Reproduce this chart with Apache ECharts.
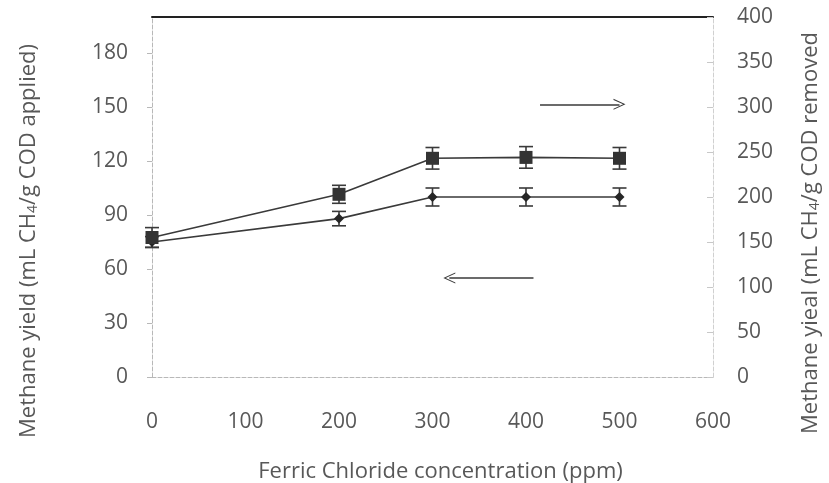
<!DOCTYPE html>
<html>
<head>
<meta charset="utf-8">
<script src="https://cdn.jsdelivr.net/npm/echarts@6/dist/echarts.min.js"></script>
<style>
  html, body { margin: 0; padding: 0; background: #fff; }
  #chart { width: 829px; height: 483px; }
</style>
</head>
<body>
<div id="chart"></div>
<script>
// Ferric chloride dose (ppm)
const concentration = [0, 200, 300, 400, 500];
// Methane yield per g COD applied (left axis, diamonds)
const yieldApplied = [75, 88, 100, 100, 100];
const yieldAppliedErr = [3, 4, 5, 5, 5];
// Methane yield per g COD removed (right axis, squares)
const yieldRemoved = [155, 203, 243, 244, 243];
const yieldRemovedErr = [11, 10, 12, 12, 12];

// Axis ranges and tick steps
const xTicks = { min: 0, max: 600, step: 100 };
const leftTicks = { min: 0, max: 200, step: 30 };
const rightTicks = { min: 0, max: 400, step: 50 };

// Arrow annotations pointing each curve to its axis: [x, y] in data units
const arrowRight = [[415, 303], [500, 303]];
const arrowLeft = [[408, 55], [318, 55]];

const FONT = 'Open Sans';
const TEXT = '#585858';
const LINE = '#3a3a3a';
const AXIS = '#b8b8b8';

const pairs = (xs, ys) => xs.map((x, i) => [x, ys[i]]);
const bars = (xs, ys, es) => xs.map((x, i) => [x, ys[i] - es[i], ys[i] + es[i]]);

function errorBar(params, api) {
  const x = api.value(0);
  const lo = api.coord([x, api.value(1)]);
  const hi = api.coord([x, api.value(2)]);
  const w = 7;
  const st = { stroke: LINE, lineWidth: 1.6 };
  return {
    type: 'group',
    children: [
      { type: 'line', shape: { x1: lo[0], y1: lo[1], x2: hi[0], y2: hi[1] }, style: st },
      { type: 'line', shape: { x1: lo[0] - w, y1: lo[1], x2: lo[0] + w, y2: lo[1] }, style: st },
      { type: 'line', shape: { x1: hi[0] - w, y1: hi[1], x2: hi[0] + w, y2: hi[1] }, style: st }
    ]
  };
}

const chevron = 'path://M5,0 L10,10 L9,10 L5,2 L1,10 L0,10 Z';

function arrowLine(pts) {
  return {
    silent: true,
    symbol: ['none', chevron],
    symbolSize: [11, 12],
    label: { show: false },
    lineStyle: { color: LINE, width: 1.5, type: 'solid' },
    data: [[{ coord: pts[0] }, { coord: pts[1] }]]
  };
}

const subStyle = { fontSize: 14, verticalAlign: 'bottom', color: TEXT, padding: [9, 0, 0, 0] };

const chart = echarts.init(document.getElementById('chart'));
chart.setOption({
  backgroundColor: '#ffffff',
  animation: false,
  textStyle: { fontFamily: FONT },
  grid: { left: 152, right: 116, top: 17, bottom: 106, containLabel: false, outerBoundsMode: 'none' },
  xAxis: [
    {
      type: 'value',
      position: 'bottom',
      min: xTicks.min, max: xTicks.max, interval: xTicks.step,
      name: 'Ferric Chloride concentration (ppm)',
      nameLocation: 'middle',
      nameGap: 84,
      nameTextStyle: { color: TEXT, fontSize: 22, fontFamily: FONT, padding: [0, 0, 0, 16] },
      axisLine: { onZero: false, lineStyle: { color: AXIS, type: 'dashed', width: 1 } },
      axisTick: { show: false },
      axisLabel: { color: TEXT, fontSize: 21, margin: 35, fontFamily: FONT },
      splitLine: { show: false }
    },
    {
      type: 'value',
      position: 'top',
      min: xTicks.min, max: xTicks.max,
      axisLine: { show: true, onZero: false, lineStyle: { color: '#222', width: 2 } },
      axisTick: { show: false },
      axisLabel: { show: false },
      splitLine: { show: false }
    }
  ],
  yAxis: [
    {
      type: 'value',
      position: 'left',
      min: leftTicks.min, max: leftTicks.max, interval: leftTicks.step,
      name: 'Methane yield (mL CH{sub|4}/g COD applied)',
      nameLocation: 'middle',
      nameGap: 112,
      nameTextStyle: {
        color: TEXT, fontSize: 22, fontFamily: FONT, padding: [0, 88, 0, 0],
        rich: { sub: subStyle }
      },
      axisLine: { show: true, onZero: false, lineStyle: { color: AXIS, type: 'dashed', width: 1 } },
      axisTick: { show: true, length: 5, lineStyle: { color: AXIS } },
      axisLabel: { color: TEXT, fontSize: 21, margin: 24, fontFamily: FONT, showMaxLabel: false },
      splitLine: { show: false }
    },
    {
      type: 'value',
      position: 'right',
      min: rightTicks.min, max: rightTicks.max, interval: rightTicks.step,
      name: 'Methane yieal (mL CH{sub|4}/g COD removed',
      nameLocation: 'middle',
      nameGap: 86,
      nameTextStyle: {
        color: TEXT, fontSize: 22, fontFamily: FONT, padding: [0, 72, 0, 0],
        rich: { sub: subStyle }
      },
      axisLine: { show: true, onZero: false, lineStyle: { color: '#d0d0d0', type: 'dashed', width: 1 } },
      axisTick: { show: true, inside: true, length: 6, lineStyle: { color: '#c8c8c8' } },
      axisLabel: { color: TEXT, fontSize: 21, margin: 24, fontFamily: FONT },
      splitLine: { show: false }
    }
  ],
  series: [
    {
      name: 'applied-err',
      type: 'custom',
      xAxisIndex: 0, yAxisIndex: 0,
      renderItem: errorBar,
      encode: { x: 0, y: [1, 2] },
      data: bars(concentration, yieldApplied, yieldAppliedErr),
      z: 3
    },
    {
      name: 'removed-err',
      type: 'custom',
      xAxisIndex: 0, yAxisIndex: 1,
      renderItem: errorBar,
      encode: { x: 0, y: [1, 2] },
      data: bars(concentration, yieldRemoved, yieldRemovedErr),
      z: 3
    },
    {
      name: 'Methane yield (COD applied)',
      type: 'line',
      xAxisIndex: 0, yAxisIndex: 0,
      data: pairs(concentration, yieldApplied),
      symbol: 'diamond',
      symbolSize: 10,
      itemStyle: { color: '#262626' },
      lineStyle: { color: LINE, width: 1.6 },
      z: 4,
      markLine: arrowLine(arrowLeft)
    },
    {
      name: 'Methane yield (COD removed)',
      type: 'line',
      xAxisIndex: 0, yAxisIndex: 1,
      data: pairs(concentration, yieldRemoved),
      symbol: 'rect',
      symbolSize: 13,
      itemStyle: { color: '#333333' },
      lineStyle: { color: LINE, width: 1.6 },
      z: 5,
      markLine: arrowLine(arrowRight)
    }
  ]
});
</script>
</body>
</html>
